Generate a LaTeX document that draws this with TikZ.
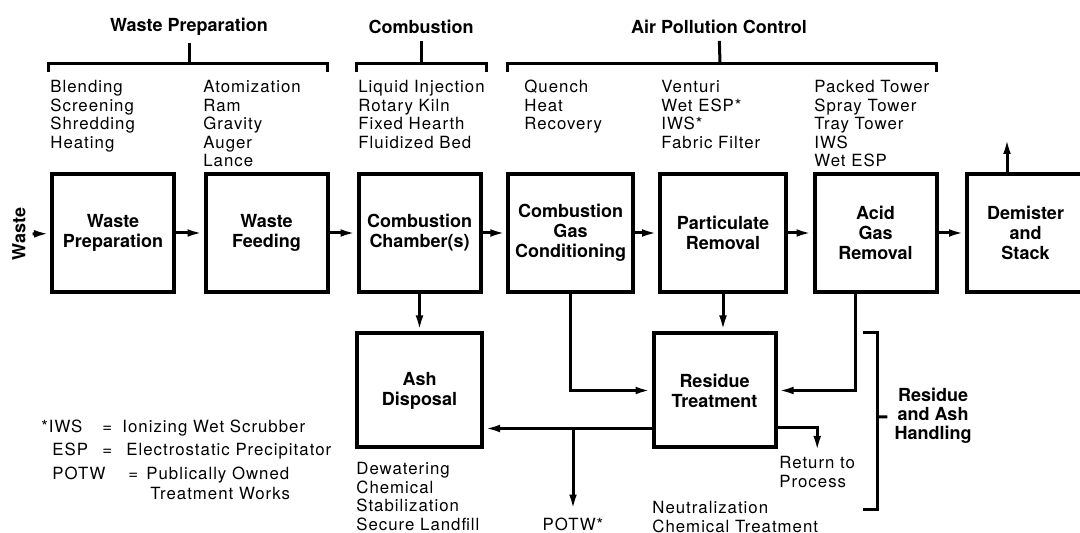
\documentclass[tikz,border=0pt]{standalone}
\usepackage{fontspec}
\setmainfont{TeX Gyre Heros}
\newfontfamily\notefont[LetterSpace=6]{TeX Gyre Heros}
\usetikzlibrary{arrows.meta}

\tikzset{
  procbox/.style={draw, line width=2pt, minimum width=61pt, minimum height=59pt,
    align=center, font=\fontsize{9}{10}\selectfont\bfseries},
  grouplabel/.style={align=center, font=\fontsize{9}{9.5}\selectfont\bfseries},
  notes/.style={anchor=north west, inner sep=0pt, align=left,
    font=\notefont\fontsize{8.4}{9.25}\selectfont},
  keytext/.style={anchor=base west, inner sep=0pt, font=\notefont\fontsize{8.4}{9.25}\selectfont},
  flow/.style={line width=1.5pt, -{Latex[length=8pt,width=3.8pt]}},
  bracketline/.style={line width=1.5pt},
}

\begin{document}
\begin{tikzpicture}[x=0.5pt, y=-0.5pt]
      \useasboundingbox (0,0) rectangle (1080,533);
      \clip (0,0) rectangle (1080,533);
      % process boxes
      \node[procbox] (prep) at (113,233) {Waste\\Preparation};
      \node[procbox] (feed) at (266.5,233) {Waste\\Feeding};
      \node[procbox] (chamber) at (419.5,233) {Combustion\\Chamber(s)};
      \node[procbox] (cond) at (570.5,233) {Combustion\\Gas\\Conditioning};
      \node[procbox, minimum width=63pt] (part) at (723,233) {Particulate\\Removal};
      \node[procbox] (acid) at (875.5,233) {Acid\\Gas\\Removal};
      \node[procbox, minimum width=58.5pt] (stack) at (1025.5,233) {Demister\\and\\Stack};
      \node[procbox, minimum width=62.5pt, minimum height=57pt] (ash) at (419.5,390.5) {Ash\\Disposal};
      \node[procbox, minimum height=57pt] (residue) at (714.5,390.5) {Residue\\Treatment};
      \node[rotate=90, font=\fontsize{9}{10}\selectfont\bfseries] (waste) at (19,234) {Waste};
      % group headers
      \node[grouplabel] (gprep) at (189,27) {Waste Preparation};
      \node[grouplabel] (gcomb) at (421,27) {Combustion};
      \node[grouplabel] (gapc) at (719,27) {Air Pollution Control};
      \node[grouplabel] (handling) at (933,416) {Residue\\and Ash\\Handling};
      \begin{scope}[bracketline]
        \draw (48,72) |- (327,64) -- (327,72);
        \draw (189,64) -- (gprep);
        \draw (356,72) |- (486,64) -- (486,72);
        \draw (421,64) -- (gcomb);
        \draw (507,72) |- (936,64) -- (936,72);
        \draw (720,64) -- (gapc);
        \draw (863,333) -| (877,509) -- (863,509);
        \draw (877,417) -- (handling);
      \end{scope}
      % method lists
      \node[notes] (prepnotes) at (50,80) {Blending\\Screening\\Shredding\\Heating};
      \node[notes] (feednotes) at (203,80) {Atomization\\Ram\\Gravity\\Auger\\Lance};
      \node[notes] (combnotes) at (358,80) {Liquid Injection\\Rotary Kiln\\Fixed Hearth\\Fluidized Bed};
      \node[notes] (condnotes) at (524,80) {Quench\\Heat\\Recovery};
      \node[notes] (partnotes) at (661,80) {Venturi\\Wet ESP*\\IWS*\\Fabric Filter};
      \node[notes] (acidnotes) at (814,80) {Packed Tower\\Spray Tower\\Tray Tower\\IWS\\Wet ESP};
      \node[notes] (ashnotes) at (356,462) {Dewatering\\Chemical\\Stabilization\\Secure Landfill};
      \node[notes] (resnotes) at (652,501) {Neutralization\\Chemical Treatment};
      \node[notes] (return) at (779,456) {Return to\\Process};
      \node[font=\notefont\fontsize{8.4}{9.25}\selectfont] (potw) at (573,524) {POTW*};
      % legend
      \node[keytext] (kiws) at (41,432) {*IWS};
      \node[keytext] (kiwseq) at (102,432) {=};
      \node[keytext] (kiwstext) at (122,432) {Ionizing Wet Scrubber};
      \node[keytext] (kesp) at (52,456) {ESP};
      \node[keytext] (kespeq) at (102,456) {=};
      \node[keytext] (kesptext) at (126,456) {Electrostatic Precipitator};
      \node[keytext] (kpotw) at (52,480) {POTW};
      \node[keytext] (kpotweq) at (128,480) {=};
      \node[keytext] (kpotwtext) at (146,480) {Publically Owned};
      \node[keytext] (kpotwmore) at (150,499) {Treatment Works};
      % flows
      \coordinate (exhaust) at (1007,138);
      \coordinate (split) at ([yshift=-19pt]residue.west);
      \coordinate (retfrom) at ([yshift=-18.5pt]residue.east);
      \begin{scope}[flow]
        \draw (waste) -- (prep);
        \draw (prep) -- (feed);
        \draw (feed) -- (chamber);
        \draw (chamber) -- (cond);
        \draw (cond) -- (part);
        \draw (part) -- (acid);
        \draw (acid) -- (stack);
        \draw (exhaust |- stack.north) -- (exhaust);
        \draw (chamber) -- (ash);
        \draw (cond.south) |- (residue.west);
        \draw (part.south) -- (part.south |- residue.north);
        \draw ([xshift=-10pt]acid.south) |- (residue.east);
        \draw (split) -- (split -| ash.east);
        \draw (split -| potw) -- (potw);
        \draw (retfrom) -| ([yshift=2pt]return.north);
      \end{scope}
\end{tikzpicture}
\end{document}
